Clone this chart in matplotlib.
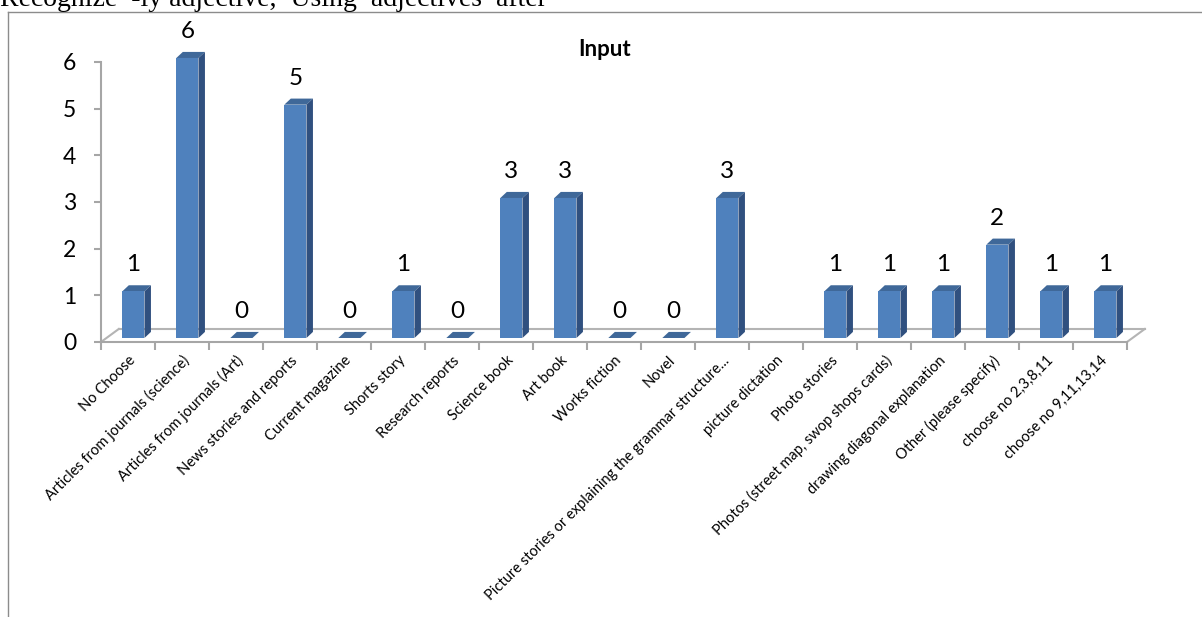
import numpy as np
import matplotlib
matplotlib.use("Agg")
import matplotlib.pyplot as plt
from matplotlib.lines import Line2D

# %% data
categories = ['No Choose', 'Articles from journals (science)', 'Articles from journals (Art)',
              'News stories and reports', 'Current magazine', 'Shorts story', 'Research reports',
              'Science book', 'Art book', 'Works fiction', 'Novel',
              'Picture stories or explaining the grammar structure...', 'picture dictation',
              'Photo stories', 'Photos (street map, swop shops cards)', 'drawing diagonal explanation',
              'Other (please specify)', 'choose no 2,3,8,11', 'choose no 9,11,13,14']
values = [1, 6, 0, 5, 0, 1, 0, 3, 3, 0, 0, 3, None, 1, 1, 1, 2, 1, 1]
yticks = [0, 1, 2, 3, 4, 5, 6]

# %% figure
W, H = 1202, 617
fig = plt.figure(figsize=(W / 100, H / 100), dpi=100)
plt.rcParams['font.family'] = ['Lato', 'DejaVu Sans']

# axes placed in pixel terms
x0, x1 = 101, 1127
y0, y1 = 342, 62
ax = fig.add_axes([x0 / W, 1 - y0 / H, (x1 - x0) / W, (y0 - y1) / H])
ax.set_xlim(0, len(categories))
ax.set_ylim(0, 6)
for s in ['top', 'right', 'bottom']:
    ax.spines[s].set_visible(False)
ax.spines['left'].set_color('#a6a6a6')
ax.spines['left'].set_linewidth(1.5)
ax.set_facecolor('none')

front = '#4f81bd'
side = '#30507f'
top = '#3f6899'

# depth offsets (data units)
dx, dy = 0.12, 0.13
base = 0.086
bw = 0.41

# floor
fd_x, fd_y = 0.33, 0.28
n = len(categories)
floor_kw = dict(color='#b4b4b4', lw=1.5, clip_on=False)
ax.plot([0, fd_x], [0, fd_y], **floor_kw)
ax.plot([fd_x, n + fd_x], [fd_y, fd_y], **floor_kw)
ax.plot([n + fd_x, n], [fd_y, 0], **floor_kw)
ax.plot([0, n], [0, 0], color='#a6a6a6', lw=1.5, clip_on=False)

for i, v in enumerate(values):
    if v is None:
        continue
    xl = i + 0.5 - bw / 2 + 0.1
    xr = xl + bw
    b = base
    t = base + v
    # top face
    ax.fill([xl, xr, xr + dx, xl + dx], [t, t, t + dy, t + dy], color=top, lw=0, clip_on=False, zorder=3)
    if v > 0:
        ax.fill([xl, xr, xr, xl], [b, b, t, t], color=front, lw=0, zorder=3, clip_on=False)
        ax.fill([xr, xr + dx, xr + dx, xr], [b, b + dy, t + dy, t], color=side, lw=0, zorder=3, clip_on=False)
    ax.annotate(str(v), (xl + bw / 2, t), xytext=(0, 19), textcoords='offset points',
                ha='center', va='center', fontsize=17.5, color='black', annotation_clip=False)

# y ticks
ax.set_yticks(yticks)
ax.set_yticklabels([str(t) for t in yticks], fontsize=16.5)
ax.tick_params(axis='y', length=5, width=1.5, color='#a6a6a6', pad=13)

# x ticks at boundaries, labels at centres
ax.set_xticks(np.arange(0, n + 1))
ax.set_xticklabels([])
ax.tick_params(axis='x', length=6, width=1.5, color='#a6a6a6')
for i, lab in enumerate(categories):
    ax.text(i + 0.6, -0.35, lab, rotation=45, rotation_mode='anchor', ha='right', va='center',
            fontsize=10.5, color='black')

fig.text(605 / W, 1 - 50 / H, 'Input', ha='center', va='center', fontsize=16, fontweight='bold')

# chart frame (clipped at right and bottom like the source)
fig.add_artist(Line2D([8 / W, 8 / W], [0, 1 - 12 / H], transform=fig.transFigure, color='#8c8c8c', lw=1))
fig.add_artist(Line2D([8 / W, 1], [1 - 12 / H, 1 - 12 / H], transform=fig.transFigure, color='#8c8c8c', lw=1))

# document text cut off above the chart
fig.text(0, 1 - 6 / H, 'Recognize  -ly adjective,  Using  adjectives  after', ha='left', va='baseline',
         fontsize=20, family='Liberation Serif')

fig.savefig('out.png', dpi=100)
